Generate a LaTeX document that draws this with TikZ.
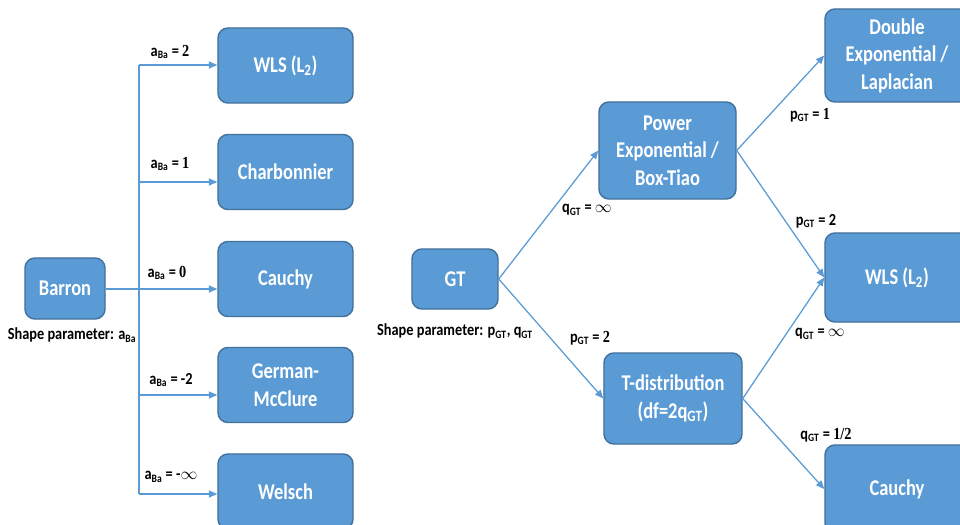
\documentclass[tikz,border=0pt]{standalone}
\usepackage{fontspec}
\setmainfont{Carlito}
\newfontfamily\boxfont{Carlito}[FakeStretch=0.82]
\newfontfamily\lblfont{Carlito}[FakeStretch=0.85]
\newfontfamily\numfont{Liberation Serif}[FakeStretch=0.85]
\usepackage{tikz}
\usetikzlibrary{arrows.meta}
\definecolor{boxblue}{HTML}{5B9BD5}
\definecolor{boxedge}{HTML}{41719C}

\tikzset{
  box/.style={draw=boxedge, fill=boxblue, line width=1pt, rounded corners=7pt,
    text=white, align=center, inner sep=0pt,
    font=\boxfont\bfseries\fontsize{16}{19.5}\selectfont},
  lbl/.style={font=\lblfont\bfseries\fontsize{12}{14}\selectfont, inner sep=0pt},
  link/.style={draw=boxblue, line width=0.9pt},
  arr/.style={link, -{Triangle[length=6pt,width=5pt]}}
}

\begin{document}
\begin{tikzpicture}[x=0.025cm, y=-0.025cm]
		\useasboundingbox (0,0) rectangle (960,525);
		% Barron family
		\node[box, minimum width=2cm, minimum height=1.525cm] (barron) at (65,288.5) {Barron};
		\node[lbl] (shapeba) at (72,335) {Shape parameter: a\textsubscript{Ba}};
		\node[box, minimum width=3.375cm, minimum height=1.875cm] (wlsa) at (285.5,65.5) {WLS (L\textsubscript{2})};
		\node[box, minimum width=3.375cm, minimum height=1.875cm] (charb) at (285.5,172) {Charbonnier};
		\node[box, minimum width=3.375cm, minimum height=1.875cm] (cauchya) at (285.5,279) {Cauchy};
		\node[box, minimum width=3.375cm, minimum height=1.875cm] (german) at (285.5,385) {German-\\McClure};
		\node[box, minimum width=3.375cm, minimum height=1.875cm] (welsch) at (285.5,491.5) {Welsch};
		\coordinate (twls) at (139,65);
		\coordinate (tcharb) at (139,182);
		\coordinate (tcauchy) at (139,289);
		\coordinate (tgerman) at (139,395);
		\coordinate (twelsch) at (139,494);
		\draw[link] (twls) -- (twelsch);
		\draw[link] (barron.east |- tcauchy) -- (tcauchy);
		\draw[arr] (twls) -- (twls -| wlsa.west);
		\draw[arr] (tcharb) -- (tcharb -| charb.west);
		\draw[arr] (tcauchy) -- (tcauchy -| cauchya.west);
		\draw[arr] (tgerman) -- (tgerman -| german.west);
		\draw[arr] (twelsch) -- (twelsch -| welsch.west);
		\node[lbl] (ba2) at (170,52) {a\textsubscript{Ba} = {\numfont 2}};
		\node[lbl] (ba1) at (170,164) {a\textsubscript{Ba} = {\numfont 1}};
		\node[lbl] (ba0) at (167,273) {a\textsubscript{Ba} = {\numfont 0}};
		\node[lbl] (bam2) at (171,380) {a\textsubscript{Ba} = -2};
		\node[lbl] (bainf) at (171,477) {a\textsubscript{Ba} = -$\infty$};
		% GT family
		\node[box, minimum width=2.15cm, minimum height=1.5cm] (gt) at (455,279) {GT};
		\node[lbl] (shapegt) at (455,331) {Shape parameter: p\textsubscript{GT}, q\textsubscript{GT}};
		\node[box, minimum width=3.425cm, minimum height=2.425cm] (power) at (667.5,150.5) {Power\\Exponential /\\Box-Tiao};
		\node[box, minimum width=3.45cm, minimum height=2.275cm] (tdist) at (673,398.5) {T-distribution\\(df=2q\textsubscript{GT})};
		\node[box, minimum width=3.6cm, minimum height=2.325cm] (laplace) at (897,55.5) {Double\\Exponential /\\Laplacian};
		\node[box, minimum width=3.6cm, minimum height=2.225cm] (wlsb) at (897,277.5) {WLS (L\textsubscript{2})};
		\node[box, minimum width=3.6cm, minimum height=2.2cm] (cauchyb) at (897,489) {Cauchy};
		\draw[arr] (gt.east) -- (power.west);
		\draw[arr] (gt.east) -- (tdist.west);
		\draw[arr] (power.east) -- (laplace.west);
		\draw[arr] (power.east) -- (wlsb.west);
		\draw[arr] (tdist.east) -- (wlsb.west);
		\draw[arr] (tdist.east) -- (cauchyb.west);
		\node[lbl] (qinf) at (587,210) {q\textsubscript{GT} = $\infty$};
		\node[lbl] (p2) at (590,338) {p\textsubscript{GT} = {\numfont 2}};
		\node[lbl] (p1) at (810,115) {p\textsubscript{GT} = {\numfont 1}};
		\node[lbl] (p2b) at (816,221) {p\textsubscript{GT} = 2};
		\node[lbl] (qinfb) at (820,334) {q\textsubscript{GT} = $\infty$};
		\node[lbl] (qhalf) at (826,435) {q\textsubscript{GT} = {\numfont 1/2}};
\end{tikzpicture}
\end{document}
